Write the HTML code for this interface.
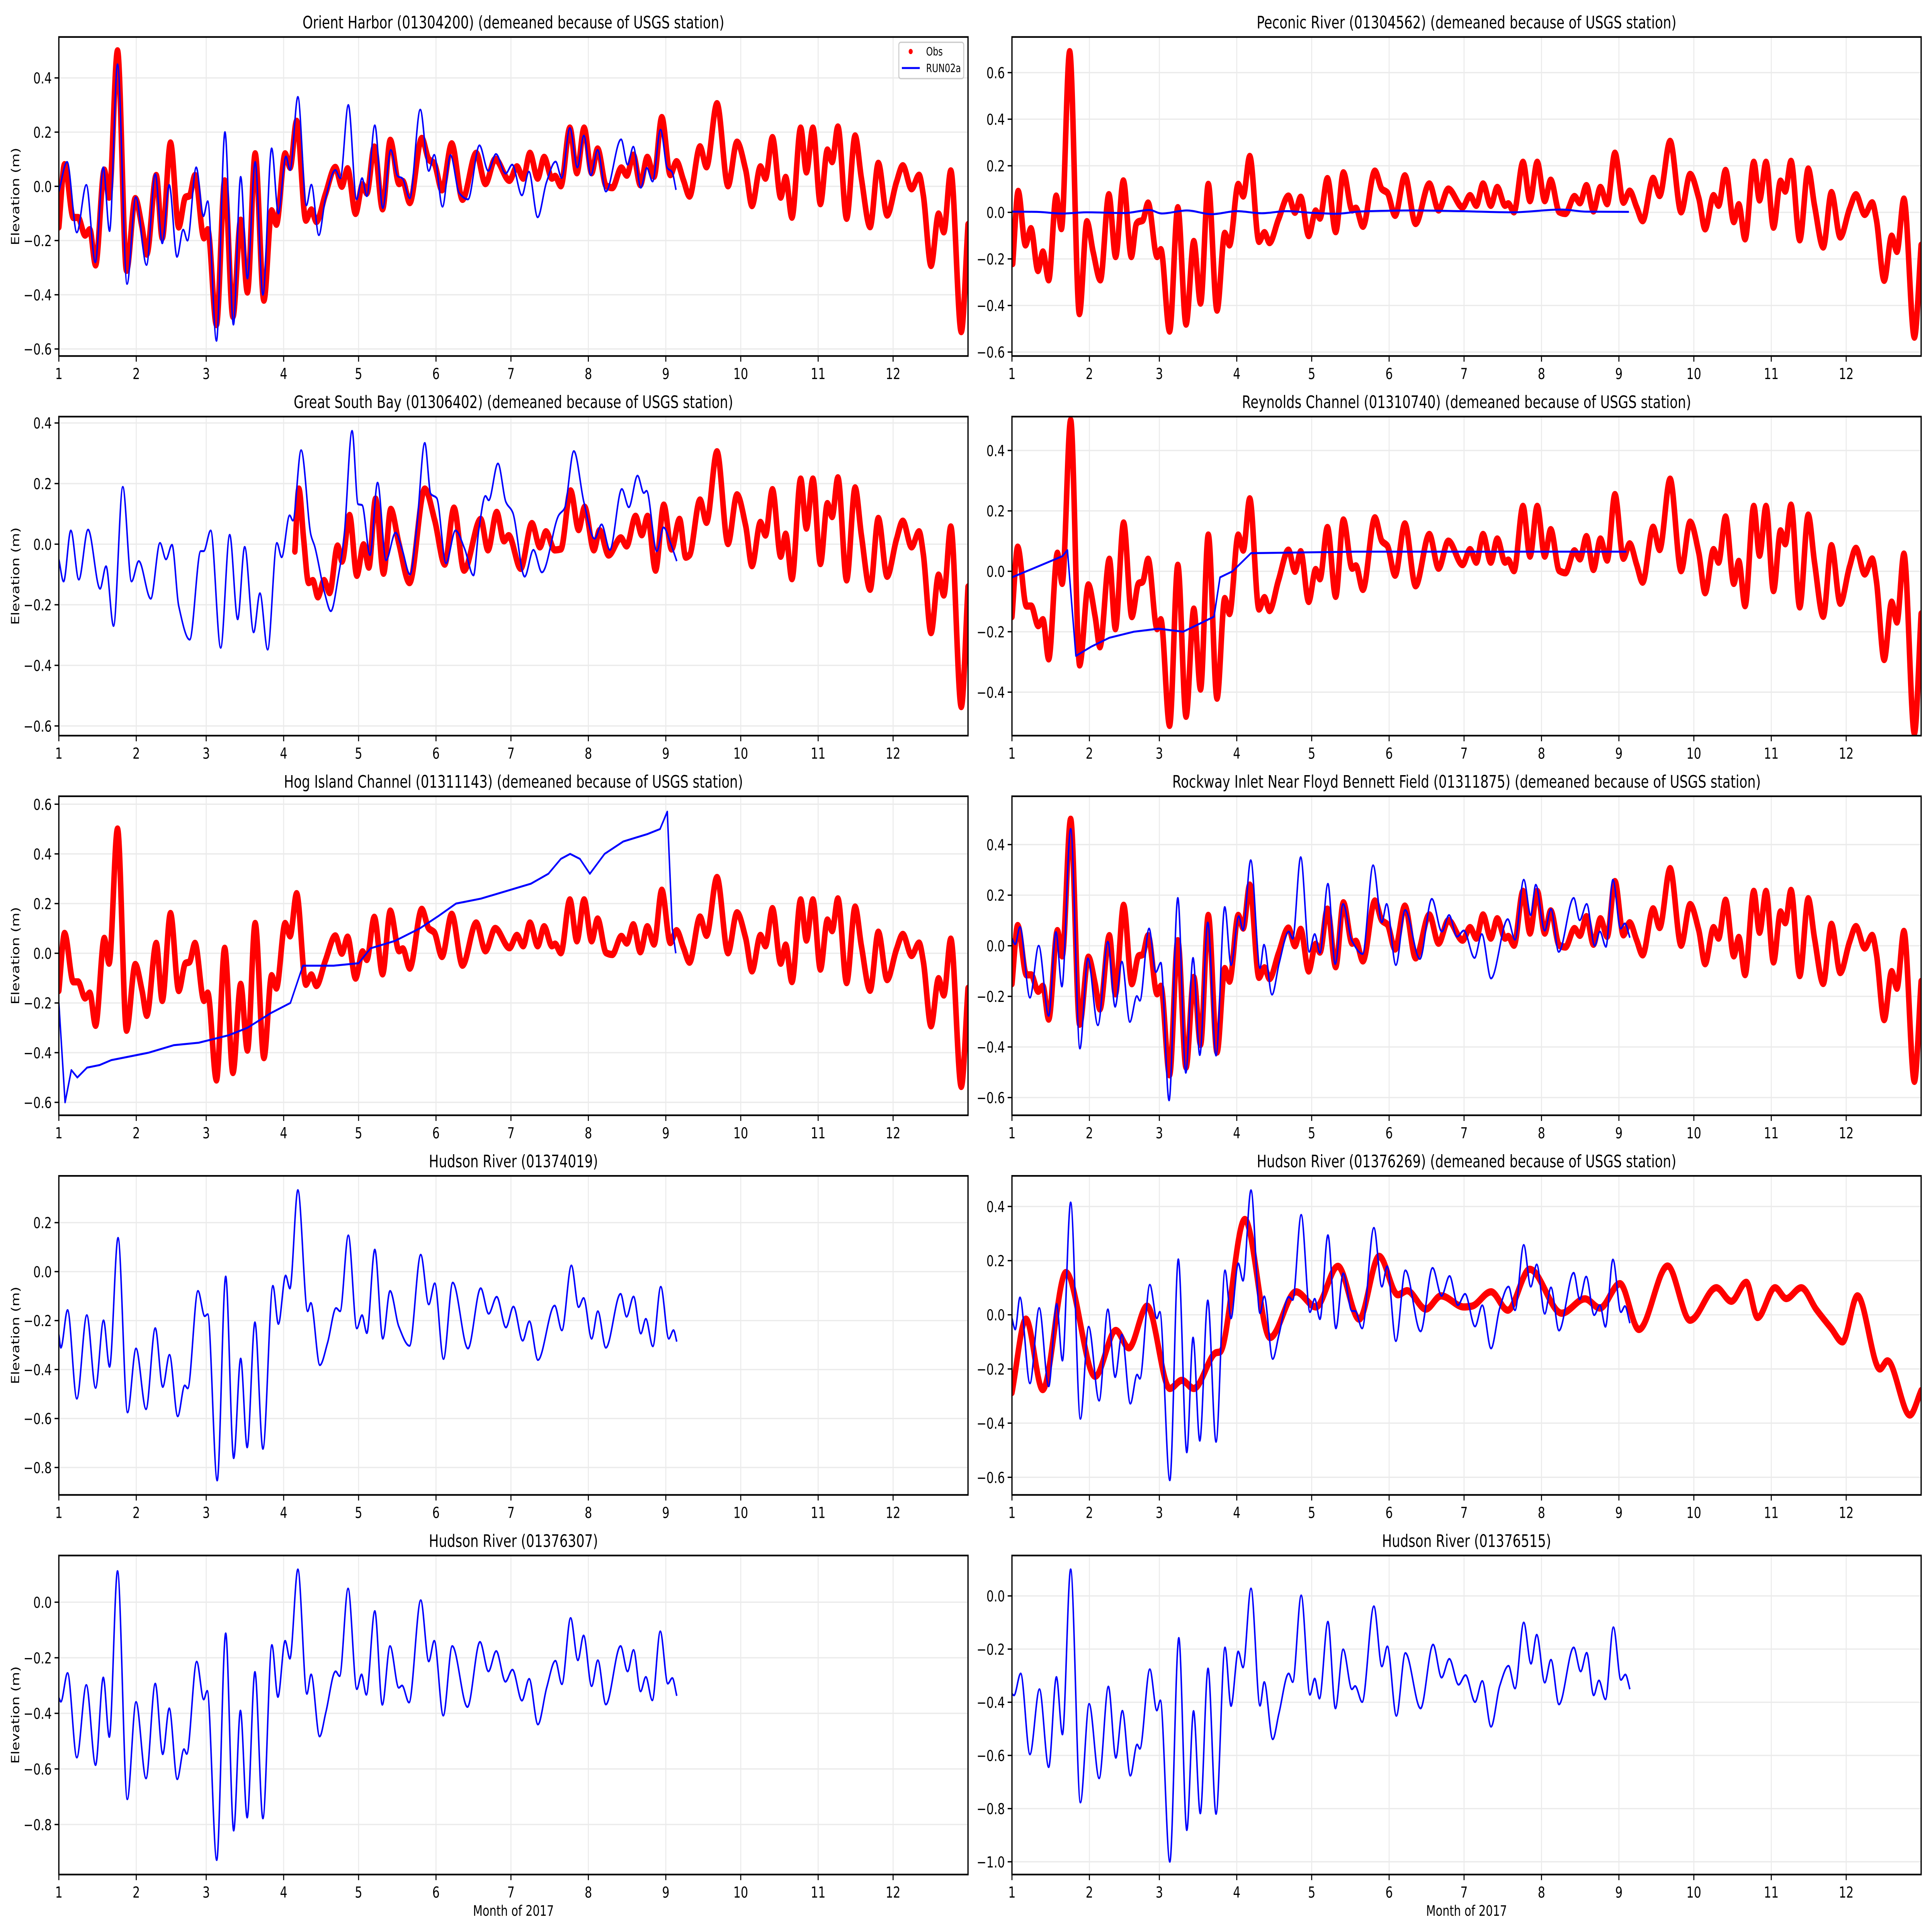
<!DOCTYPE html>
<html><head><meta charset="utf-8">
<style>
html,body{margin:0;padding:0;background:#fff;overflow:hidden;width:100%;height:100%;}
svg{display:block;width:100vw;height:100vh;font-family:"DejaVu Sans","Liberation Sans",sans-serif;}
</style></head>
<body>
<svg id="fig" viewBox="0 0 7650 5850" preserveAspectRatio="none" xmlns="http://www.w3.org/2000/svg">
<rect x="0" y="0" width="7650" height="5850" fill="#fff"/>
</svg>
<script>
// ---- shared axis data ----
const monthStarts=[0,31,59,90,120,151,181,212,243,273,304,334];
const monthLabels=["1","2","3","4","5","6","7","8","9","10","11","12"];

// ---- Obs (Orient Harbor) ----
const obsDays=[0,2.3,5.8,7.7,10.5,12.4,14.7,18.2,20.1,23.5,27.1,30.6,33.3,35.2,39,41.4,44.7,48,50.7,52.3,54.5,58.1,59.6,63.1,66.4,69.7,72.8,75.5,78.6,82.1,85.2,87.1,90.6,92.6,95.2,98.9,101.1,103.1,106.7,110.7,113.3,115.6,118.8,121.6,123.3,126.3,129.6,132.7,136.2,137.7,140.5,145.3,148.1,150.3,153.4,157.3,161.6,167.1,170.8,174.7,180.4,183.4,185.9,188.6,191.7,194.3,197.4,198.7,201,204.6,207.4,210.3,213.3,215.7,219.1,221.6,225.2,227.4,230,232.8,235.6,238.3,241.4,244.8,247.3,250.1,252.5,256.7,259.3,263.5,267.9,271.5,275,277.5,280.9,282.9,285.7,289,291,293.5,297,299.3,301.9,304.9,307.7,309.6,311.9,315.4,318.8,321.3,324.8,328.1,331.6,335.3,337.9,341.4,344.4,346.1,349.2,352.2,354.3,357.1,361.3,364];
const obsVals=[-0.15,0.08,-0.115,-0.115,-0.18,-0.16,-0.29,0.06,-0.04,0.50,-0.31,-0.045,-0.15,-0.25,0.04,-0.19,0.16,-0.15,-0.04,-0.035,0.04,-0.19,-0.16,-0.51,0.02,-0.48,-0.125,-0.39,0.12,-0.42,-0.09,-0.14,0.12,0.07,0.24,-0.125,-0.087,-0.13,-0.03,0.07,0.0,0.065,-0.10,0.006,-0.025,0.145,-0.083,0.17,0.01,0.018,-0.06,0.177,0.1,0.084,-0.013,0.157,-0.048,0.122,0.01,0.1,0.022,0.072,0.03,0.122,0.03,0.107,0.03,0.037,0.002,0.215,0.05,0.215,0.05,0.138,0.002,-0.005,0.068,0.041,0.115,0.006,0.107,0.037,0.254,0.043,0.091,0.022,-0.036,0.146,0.072,0.305,0.002,0.163,0.06,-0.071,0.072,0.03,0.18,-0.04,0.033,-0.114,0.215,0.053,0.215,-0.064,0.134,0.091,0.219,-0.118,0.186,0.03,-0.149,0.085,-0.106,0.014,0.076,-0.009,0.041,-0.033,-0.292,-0.102,-0.168,0.057,-0.536,-0.141];

// ---- Peconic Obs (first 50 days read separately) ----
const pecObsHeadDays=[0.3,2.5,5.4,7.6,10.4,12.4,14.7,17.7,19.8,23.1,27,30,32.5,35.4,38.8,41.5,44.6,47.8,49.8];
const pecObsHeadVals=[-0.22,0.09,-0.14,-0.07,-0.25,-0.17,-0.29,0.07,-0.07,0.69,-0.435,-0.04,-0.17,-0.29,0.076,-0.19,0.135,-0.19,-0.05];

// ---- Orient Harbor model ----
const orientDays=[0,3.3,7.2,11,14.6,17.8,20.3,23.5,27.3,30.8,35.1,38.6,41.4,44.2,47.3,49.8,51.5,55,57.9,59.6,63.1,66.5,69.9,72.8,75.5,78.6,81.7,85.2,87.9,90.9,92.6,95.7,99.1,101.1,104.1,106.7,110.7,112.7,115.9,119.2,121.4,123.3,126.5,129.7,132.9,135.7,137.5,140.5,144.7,148.1,150.3,153.6,156.8,160.3,163.8,168.4,171.9,175,178.9,181.5,185.4,188.2,191.7,195.2,198.9,201.3,204.6,207.6,210.2,213,215.7,219,225.1,227.7,230,233,235.4,237.7,240.9,243.6,245.5,247.1];
const orientVals=[-0.02,0.09,-0.17,0.005,-0.28,0.07,-0.165,0.45,-0.36,-0.04,-0.29,0.045,-0.21,0.005,-0.26,-0.16,-0.2,0.07,-0.11,-0.055,-0.57,0.2,-0.51,0.035,-0.34,0.09,-0.40,0.14,-0.10,0.11,0.06,0.33,-0.07,0.006,-0.18,-0.048,0.06,0.03,0.30,-0.048,0.03,-0.036,0.225,-0.08,0.134,0.037,0.03,-0.044,0.283,0.057,0.116,-0.075,0.115,-0.025,-0.048,0.151,0.057,0.119,0.047,0.08,-0.033,0.054,-0.114,0.014,0.091,0.031,0.215,0.07,0.187,0.041,0.134,-0.019,0.173,0.08,0.146,-0.005,0.068,0.018,0.209,0.068,0.053,-0.013];

// ---- Peconic model ----
const peconicDays=[0,10,20,30,45,55,60,70,80,90,100,110,120,130,140,160,180,200,220,230,247];
const peconicVals=[0.003,0.002,-0.005,0.0,-0.003,0.01,-0.005,0.008,-0.008,0.005,-0.004,0.005,-0.002,-0.006,0.004,0.008,0.005,0.0,0.012,0.003,0.002];

// ---- Great South Bay ----
const gsbDays=[0,1.9,4.8,8,11.7,16.5,18.9,21.9,25.6,29.1,32,36.8,40.5,42.9,45.3,48,52.4,56.8,58,60.8,64.8,68.4,71.6,74.4,78,80.5,83.6,87.3,89.2,92.4,93.7,97,100.9,102.5,106.5,108.9,112.1,114.2,117.4,119.8,121.4,124.6,127.6,131,134.8,137.4,140.6,143.3,146.5,148.9,151.3,155,158.8,162.5,166,168.1,170.8,172.1,175.8,179,181.7,186.5,190,193.4,200.1,202.5,206.2,210.2,214.5,217.3,220.6,225.4,228.2,231.7,234.2,235.3,239.4,242.1,245,247.4];
const gsbVals=[-0.05,-0.123,0.045,-0.117,0.048,-0.147,-0.073,-0.27,0.189,-0.123,-0.056,-0.18,0.004,-0.05,-0.002,-0.204,-0.315,-0.023,-0.023,0.045,-0.342,0.031,-0.248,-0.009,-0.291,-0.162,-0.348,0.004,-0.043,0.095,0.078,0.31,0.031,-0.009,-0.164,-0.221,-0.096,0.024,0.374,0.132,0.129,-0.036,0.203,-0.053,0.038,-0.016,-0.1,0.058,0.334,0.166,0.152,-0.063,0.045,-0.016,-0.103,0.045,0.159,0.145,0.266,0.139,0.105,-0.107,-0.019,-0.093,0.095,0.119,0.307,0.139,0.018,0.065,-0.019,0.182,0.122,0.226,0.169,0.176,-0.023,0.055,0.001,-0.056];
const gsbObsDays=[94.5,96.1,98,100,101.7,103.7,106.2,108.4,111.6,113.4,116.4,119.3,122,124.1,126.8,130,132.9,136.1,140.4,146.5,150.5,154.5,158.2,162.2,168.9,171.8,175.3,178.2,180.1,184.9,189.4,192.6,195,198.5,201,204.9,208.1,210.5,214.2,216.5,220.1,225,227.3,230.9,233.4,235.7,238.9,242.2,245.3,248.5,251];
const gsbObsVals=[-0.023,0.182,0.018,-0.127,-0.12,-0.174,-0.12,-0.16,-0.006,-0.056,0.095,-0.103,-0.002,-0.076,0.149,-0.096,0.115,0.004,-0.127,0.182,0.078,-0.066,0.119,-0.086,0.082,-0.019,0.105,0.011,0.028,-0.08,0.068,-0.009,0.041,-0.019,-0.016,0.176,0.048,0.122,-0.019,0.045,-0.036,0.021,-0.006,0.092,0.031,0.092,-0.086,0.129,-0.016,0.082,-0.043];

// ---- Reynolds Channel model ----
const reynoldsDays=[0,20.2,22.2,25.6,31.6,39,48.8,58.7,68.5,76,80.9,83.3,88.3,95.7,137.6,246];
const reynoldsVals=[-0.02,0.05,0.07,-0.28,-0.25,-0.22,-0.2,-0.19,-0.2,-0.17,-0.15,-0.02,0.0,0.06,0.065,0.065];

// ---- Hog Island model ----
const hogDays=[0,2.5,5,7.4,11.3,16.3,21,26,36,46,56,68,75.5,85,92.7,97.7,110,120,124.8,134.6,144.5,152,159,169,179,189,196,201,204.7,208.6,212.6,218.5,226,235.7,240.7,243.6,245.6,247];
const hogVals=[-0.2,-0.6,-0.47,-0.5,-0.46,-0.45,-0.43,-0.42,-0.4,-0.37,-0.36,-0.33,-0.3,-0.24,-0.2,-0.05,-0.05,-0.04,0.02,0.05,0.1,0.15,0.2,0.22,0.25,0.28,0.32,0.38,0.4,0.38,0.32,0.4,0.45,0.48,0.5,0.57,0.1,0.0];

// ---- Rockaway model ----
const rockDays=[0,1.3,3.2,7.2,10.7,14.7,17.6,20,23.5,27.2,30.4,34.4,38.4,41.3,44,47.2,50,51.2,54.9,57.6,59.6,62.9,66.4,69.6,72.5,75.2,78.4,81.7,85.2,87.7,90.8,92.5,95.6,99.3,100.9,104.1,107,110.8,112.4,115.6,119,121.2,123.3,126.5,129.4,132.6,136.1,140.4,144.6,148.1,150,153.7,157.4,163.3,168.1,172.1,175,178.2,180.9,185.2,188.1,191.8,198.5,201.4,204.9,207.7,209.7,213.3,215.8,218.9,224.9,227.3,230.1,233.3,235.4,237.8,240.6,243.7,245.4,247.4];
const rockVals=[0.028,0.006,0.074,-0.205,0.0,-0.277,0.054,-0.161,0.462,-0.406,-0.05,-0.314,0.016,-0.241,-0.063,-0.301,-0.199,-0.217,0.068,-0.104,-0.067,-0.611,0.189,-0.502,-0.048,-0.432,0.092,-0.434,0.153,-0.076,0.117,0.062,0.338,-0.088,0.004,-0.193,-0.068,0.056,0.028,0.35,-0.024,0.046,-0.028,0.245,-0.072,0.165,0.02,-0.032,0.318,0.093,0.165,-0.076,0.141,-0.052,0.185,0.056,0.121,0.036,0.06,-0.048,0.046,-0.129,0.105,0.024,0.261,0.121,0.241,0.06,0.145,-0.024,0.189,0.101,0.165,0.0,0.056,-0.004,0.261,0.068,0.088,0.032];

// ---- Hudson 01374019 ----
const h7Days=[0,0.8,3.5,7.2,11.2,14.7,17.9,20.3,23.7,27.5,30.9,34.9,38.6,41.6,44.3,47.6,50.4,51.6,55.7,58.4,59.6,63.4,66.8,70,72.8,75.4,78.5,81.7,85.7,87.9,90.8,92.5,95.7,99.6,100.9,104.5,107.6,111,112.6,115.9,119.3,121.4,123.3,126.5,129.7,132.6,136.1,140.4,144.9,148.1,150.5,154,157.7,163.8,168.9,172.1,175.3,179,182,185.7,188.4,191.8,198.5,201.4,205.2,208.1,210.1,213.3,215.8,219,224.9,227.3,230.1,233,235,237.8,241,244.2,246.1,247.4];
const h7Vals=[-0.257,-0.311,-0.157,-0.519,-0.178,-0.475,-0.199,-0.389,0.138,-0.575,-0.314,-0.562,-0.231,-0.471,-0.34,-0.591,-0.465,-0.477,-0.079,-0.182,-0.174,-0.853,-0.02,-0.762,-0.355,-0.718,-0.207,-0.724,-0.058,-0.214,-0.016,-0.069,0.333,-0.162,-0.128,-0.382,-0.29,-0.149,-0.162,0.148,-0.232,-0.178,-0.251,0.09,-0.274,-0.079,-0.224,-0.303,0.069,-0.134,-0.048,-0.357,-0.045,-0.314,-0.068,-0.172,-0.103,-0.228,-0.143,-0.282,-0.203,-0.361,-0.139,-0.24,0.025,-0.145,-0.108,-0.274,-0.162,-0.311,-0.091,-0.184,-0.102,-0.253,-0.193,-0.305,-0.062,-0.274,-0.239,-0.286];

// ---- Hudson 01376269 ----
const h8Days=[0,1.3,3.2,7.2,10.9,14.7,17.9,20.2,23.5,27.4,30.7,34.9,38.4,41.3,44,47.4,50.1,51.2,55.2,58,59.2,63.2,66.6,70,72.5,75.2,78.4,81.7,85.3,87.7,90.6,92.5,95.7,99.3,101,104.4,106.9,110.8,112.4,115.8,119.3,121.2,123.3,126.5,129.7,132.6,136.1,137.4,140.2,144.9,148.1,150.2,153.7,157.5,163.6,168.4,172,175.2,178.5,181.4,185.4,188.3,191.8,195.3,198.8,201.4,204.9,207.7,210.1,213.3,215.8,219,224.9,227.3,229.9,233.1,235.4,237.6,240.6,243.8,245.4,247.4];
const h8Vals=[-0.013,-0.054,0.064,-0.253,0.025,-0.264,0.04,-0.169,0.415,-0.384,-0.044,-0.317,0.02,-0.23,-0.073,-0.328,-0.221,-0.236,0.111,-0.013,0.011,-0.611,0.205,-0.508,-0.084,-0.465,0.053,-0.469,0.164,-0.013,0.19,0.126,0.46,0.006,0.068,-0.163,-0.073,0.066,0.055,0.369,0.01,0.059,-0.016,0.294,-0.05,0.153,0.014,0.014,-0.05,0.321,0.104,0.179,-0.097,0.164,-0.061,0.173,0.07,0.143,0.036,0.077,-0.043,0.035,-0.124,0.025,0.104,0.017,0.258,0.104,0.186,0.004,0.101,-0.058,0.155,0.057,0.141,-0.001,0.036,-0.044,0.204,0.01,0.032,-0.031];
const h8ObsDays=[0,5.6,12.3,21.6,33.3,41.6,46.8,54.1,63.2,68,72.8,81.7,83.3,93.2,103.3,113.7,121.7,130.5,139,147,154.5,158.2,165.7,171.8,180.9,184.1,191.8,198.5,207.3,220.1,229.4,235.4,243.4,251,262.5,271.5,282,288,294,298.5,305.5,310,316,322,328,332.5,338.5,347.5,350.5,359.5,364];
const h8ObsVals=[-0.287,-0.016,-0.276,0.156,-0.227,-0.058,-0.122,0.032,-0.272,-0.242,-0.272,-0.14,-0.137,0.352,-0.084,0.085,0.029,0.179,-0.016,0.216,0.074,0.089,0.021,0.07,0.029,0.032,0.085,0.017,0.168,0.006,0.059,0.025,0.115,-0.054,0.18,-0.02,0.1,0.05,0.12,-0.01,0.1,0.06,0.1,0.02,-0.05,-0.1,0.07,-0.2,-0.17,-0.37,-0.28];

// ---- Hudson 01376307 / 01376515 ----
const hudsonDays=[0,0.8,3.5,7.2,11,14.7,17.8,20.2,23.5,27.4,30.9,34.9,38.6,41.6,44.2,47.4,50.1,51.2,55.2,58,59.4,63.2,66.8,70,72.7,75.4,78.5,81.7,85.3,87.7,90.6,92.5,95.7,99.3,101,104.4,106.9,110.8,112.4,115.8,119.3,121.2,123.1,126.5,129.5,132.6,136.1,137.4,140.2,144.9,148.1,150.3,153.9,157.5,163.6,168.6,172,175.1,178.8,181.6,185.4,188.3,191.8,195.3,198.8,201.4,204.9,207.8,210.1,213.3,215.8,219,224.9,227.7,230.1,232.9,235,237.6,240.8,243.8,245.6,247.4];
const h9Vals=[-0.344,-0.358,-0.255,-0.559,-0.298,-0.586,-0.271,-0.485,0.112,-0.709,-0.359,-0.634,-0.293,-0.547,-0.382,-0.637,-0.529,-0.546,-0.214,-0.35,-0.319,-0.928,-0.112,-0.822,-0.39,-0.775,-0.251,-0.778,-0.154,-0.341,-0.139,-0.203,0.118,-0.33,-0.26,-0.483,-0.396,-0.249,-0.266,0.049,-0.313,-0.26,-0.333,-0.032,-0.369,-0.158,-0.308,-0.3,-0.361,0.007,-0.213,-0.139,-0.408,-0.158,-0.377,-0.143,-0.249,-0.176,-0.286,-0.243,-0.354,-0.276,-0.44,-0.308,-0.211,-0.295,-0.057,-0.209,-0.12,-0.302,-0.209,-0.368,-0.158,-0.249,-0.172,-0.321,-0.269,-0.353,-0.105,-0.293,-0.273,-0.337];
const h10Vals=[-0.368,-0.374,-0.292,-0.596,-0.351,-0.644,-0.305,-0.521,0.1,-0.777,-0.406,-0.686,-0.341,-0.609,-0.432,-0.676,-0.559,-0.575,-0.276,-0.431,-0.393,-1.0,-0.158,-0.881,-0.433,-0.818,-0.273,-0.82,-0.194,-0.414,-0.209,-0.269,0.028,-0.413,-0.324,-0.539,-0.441,-0.292,-0.324,0.002,-0.372,-0.311,-0.386,-0.097,-0.423,-0.201,-0.351,-0.339,-0.399,-0.039,-0.265,-0.19,-0.451,-0.215,-0.423,-0.183,-0.307,-0.237,-0.334,-0.298,-0.399,-0.32,-0.492,-0.338,-0.263,-0.348,-0.1,-0.255,-0.146,-0.326,-0.24,-0.408,-0.194,-0.284,-0.214,-0.374,-0.318,-0.389,-0.118,-0.316,-0.296,-0.351];

// ---- tick labels ----
const yt1=[-0.6,-0.4,-0.2,0.0,0.2,0.4];
const yt2=[-0.6,-0.4,-0.2,0.0,0.2,0.4,0.6];
const yt4=[-0.4,-0.2,0.0,0.2,0.4];
const yt7=[-0.8,-0.6,-0.4,-0.2,0.0,0.2];
const yt9=[-0.8,-0.6,-0.4,-0.2,0.0];
const yt10=[-1.0,-0.8,-0.6,-0.4,-0.2,0.0];

const gsbObsFullDays=gsbObsDays.concat(obsDays.filter(d=>d>251));
const gsbObsFullVals=gsbObsVals.concat(obsVals.filter((v,i)=>obsDays[i]>251));
const pecObsDays=pecObsHeadDays.concat(obsDays.filter(d=>d>50));
const pecObsVals=pecObsHeadVals.concat(obsVals.filter((v,i)=>obsDays[i]>50));

const panels=[
 {name:"orient-harbor",title:"Orient Harbor (01304200) (demeaned because of USGS station)",col:0,row:0,ymin:-0.626,ymax:0.551,yt:yt1,obs:[obsDays,obsVals],mod:[orientDays,orientVals],legend:true},
 {name:"peconic-river",title:"Peconic River (01304562) (demeaned because of USGS station)",col:1,row:0,ymin:-0.617,ymax:0.753,yt:yt2,obs:[pecObsDays,pecObsVals],mod:[peconicDays,peconicVals]},
 {name:"great-south-bay",title:"Great South Bay (01306402) (demeaned because of USGS station)",col:0,row:1,ymin:-0.632,ymax:0.421,yt:yt1,obs:[gsbObsFullDays,gsbObsFullVals],mod:[gsbDays,gsbVals]},
 {name:"reynolds-channel",title:"Reynolds Channel (01310740) (demeaned because of USGS station)",col:1,row:1,ymin:-0.544,ymax:0.512,yt:yt4,obs:[obsDays,obsVals],mod:[reynoldsDays,reynoldsVals],linear:true},
 {name:"hog-island-channel",title:"Hog Island Channel (01311143) (demeaned because of USGS station)",col:0,row:2,ymin:-0.652,ymax:0.632,yt:yt2,obs:[obsDays,obsVals],mod:[hogDays,hogVals],linear:true},
 {name:"rockaway-inlet",title:"Rockway Inlet Near Floyd Bennett Field (01311875) (demeaned because of USGS station)",col:1,row:2,ymin:-0.670,ymax:0.591,yt:yt1,obs:[obsDays,obsVals],mod:[rockDays,rockVals]},
 {name:"hudson-01374019",title:"Hudson River (01374019)",col:0,row:3,ymin:-0.912,ymax:0.391,yt:yt7,obs:null,mod:[h7Days,h7Vals]},
 {name:"hudson-01376269",title:"Hudson River (01376269) (demeaned because of USGS station)",col:1,row:3,ymin:-0.665,ymax:0.513,yt:yt1,obs:[h8ObsDays,h8ObsVals],mod:[h8Days,h8Vals]},
 {name:"hudson-01376307",title:"Hudson River (01376307)",col:0,row:4,ymin:-0.98,ymax:0.168,yt:yt9,obs:null,mod:[hudsonDays,h9Vals],xlabel:true},
 {name:"hudson-01376515",title:"Hudson River (01376515)",col:1,row:4,ymin:-1.048,ymax:0.152,yt:yt10,obs:null,mod:[hudsonDays,h10Vals],xlabel:true}
];

const NS="http://www.w3.org/2000/svg";
const svg=document.getElementById('fig');
const LEFTS=[233,4007], TOP0=112, PITCH=1149.5, PW=3600, PH=966, XMAX=364;
function mk(tag,attrs,parent){const e=document.createElementNS(NS,tag);for(const k in attrs)e.setAttribute(k,attrs[k]);(parent||svg).appendChild(e);return e;}
function fmt(v){let s=Math.abs(v).toFixed(1);return (v<-1e-9?"\u2212":"")+s;}

function monoPath(px,py){
 const n=px.length; if(n<2) return "";
 const d=[],m=new Array(n);
 for(let i=0;i<n-1;i++) d.push((py[i+1]-py[i])/((px[i+1]-px[i])||1e-6));
 m[0]=d[0]; m[n-1]=d[n-2];
 for(let i=1;i<n-1;i++){ if(d[i-1]*d[i]<=0) m[i]=0; else { m[i]=2/(1/d[i-1]+1/d[i]); } }
 let s="M"+px[0].toFixed(1)+","+py[0].toFixed(1);
 for(let i=0;i<n-1;i++){const h=px[i+1]-px[i];
  s+=" C"+(px[i]+h/3).toFixed(1)+","+(py[i]+m[i]*h/3).toFixed(1)+" "+(px[i+1]-h/3).toFixed(1)+","+(py[i+1]-m[i+1]*h/3).toFixed(1)+" "+px[i+1].toFixed(1)+","+py[i+1].toFixed(1);}
 return s;
}
function linPath(px,py){return px.map((x,i)=>(i?"L":"M")+x.toFixed(1)+","+py[i].toFixed(1)).join(" ");}

panels.forEach((p,pi)=>{
 const L=LEFTS[p.col], T=TOP0+PITCH*p.row;
 const xs=d=>L+d/XMAX*PW;
 const ys=v=>T+(p.ymax-v)/(p.ymax-p.ymin)*PH;
 const g=mk('g',{});
 
 
 const cid='clip'+pi;
 const cp=mk('clipPath',{id:cid},g); mk('rect',{x:L,y:T,width:PW,height:PH},cp);
 monthStarts.forEach(d=>{const l=mk('line',{x1:xs(d),x2:xs(d),y1:T,y2:T+PH,stroke:'#ebebeb','stroke-width':4},g);
  });
 p.yt.forEach(v=>{const l=mk('line',{x1:L,x2:L+PW,y1:ys(v),y2:ys(v),stroke:'#ebebeb','stroke-width':4},g);
  });
 const sg=mk('g',{'clip-path':'url(#'+cid+')'},g);
 if(p.obs){const px=p.obs[0].map(xs),py=p.obs[1].map(ys);
  const e=mk('path',{d:monoPath(px,py),fill:'none',stroke:'#ff0000','stroke-width':22,'stroke-linejoin':'round','stroke-linecap':'round'},sg);
  }
 {const px=p.mod[0].map(xs),py=p.mod[1].map(ys);
  const e=mk('path',{d:p.linear?linPath(px,py):monoPath(px,py),fill:'none',stroke:'#0000ff','stroke-width':6,'stroke-linejoin':'round'},sg);
  }
 const fr=mk('rect',{x:L,y:T,width:PW,height:PH,fill:'none',stroke:'#000','stroke-width':5},g);
 
 monthStarts.forEach((d,i)=>{mk('line',{x1:xs(d),x2:xs(d),y1:T+PH,y2:T+PH+17,stroke:'#000','stroke-width':4},g);
  const t=mk('text',{x:xs(d),y:T+PH+70,'font-size':46,'text-anchor':'middle',fill:'#000'},g);t.textContent=monthLabels[i];
  });
 p.yt.forEach(v=>{mk('line',{x1:L-17,x2:L,y1:ys(v),y2:ys(v),stroke:'#000','stroke-width':4},g);
  const t=mk('text',{x:L-28,y:ys(v)+17,'font-size':46,'text-anchor':'end',fill:'#000'},g);t.textContent=fmt(v);
  });
 const tt=mk('text',{x:L+PW/2,y:T-26,'font-size':52,'text-anchor':'middle',fill:'#000'},g);tt.textContent=p.title;
 
 if(p.col===0){const yl=mk('text',{x:0,y:0,'font-size':44,'text-anchor':'middle',fill:'#000',transform:'translate(76,'+(T+PH/2)+') rotate(-90)'},g);
  yl.textContent='Elevation (m)';}
 if(p.xlabel){const xl=mk('text',{x:L+PW/2,y:T+PH+125,'font-size':44,'text-anchor':'middle',fill:'#000'},g);
  xl.textContent='Month of 2017';}
 if(p.legend){
  const lg=mk('g',{},g);
  mk('rect',{x:3559,y:128,width:257,height:110,rx:8,fill:'#fff','fill-opacity':0.85,stroke:'#cccccc','stroke-width':4},lg);
  const dot=mk('circle',{cx:3606,cy:156,r:8,fill:'#ff0000'},lg);
  const t1=mk('text',{x:3667,y:168,'font-size':34,fill:'#000'},lg);t1.textContent='Obs';
  const ln=mk('line',{x1:3571,x2:3642,y1:206,y2:206,stroke:'#0000ff','stroke-width':6},lg);
  const t2=mk('text',{x:3667,y:218,'font-size':34,fill:'#000'},lg);t2.textContent='RUN02a';
 }
});
</script>
</body></html>
